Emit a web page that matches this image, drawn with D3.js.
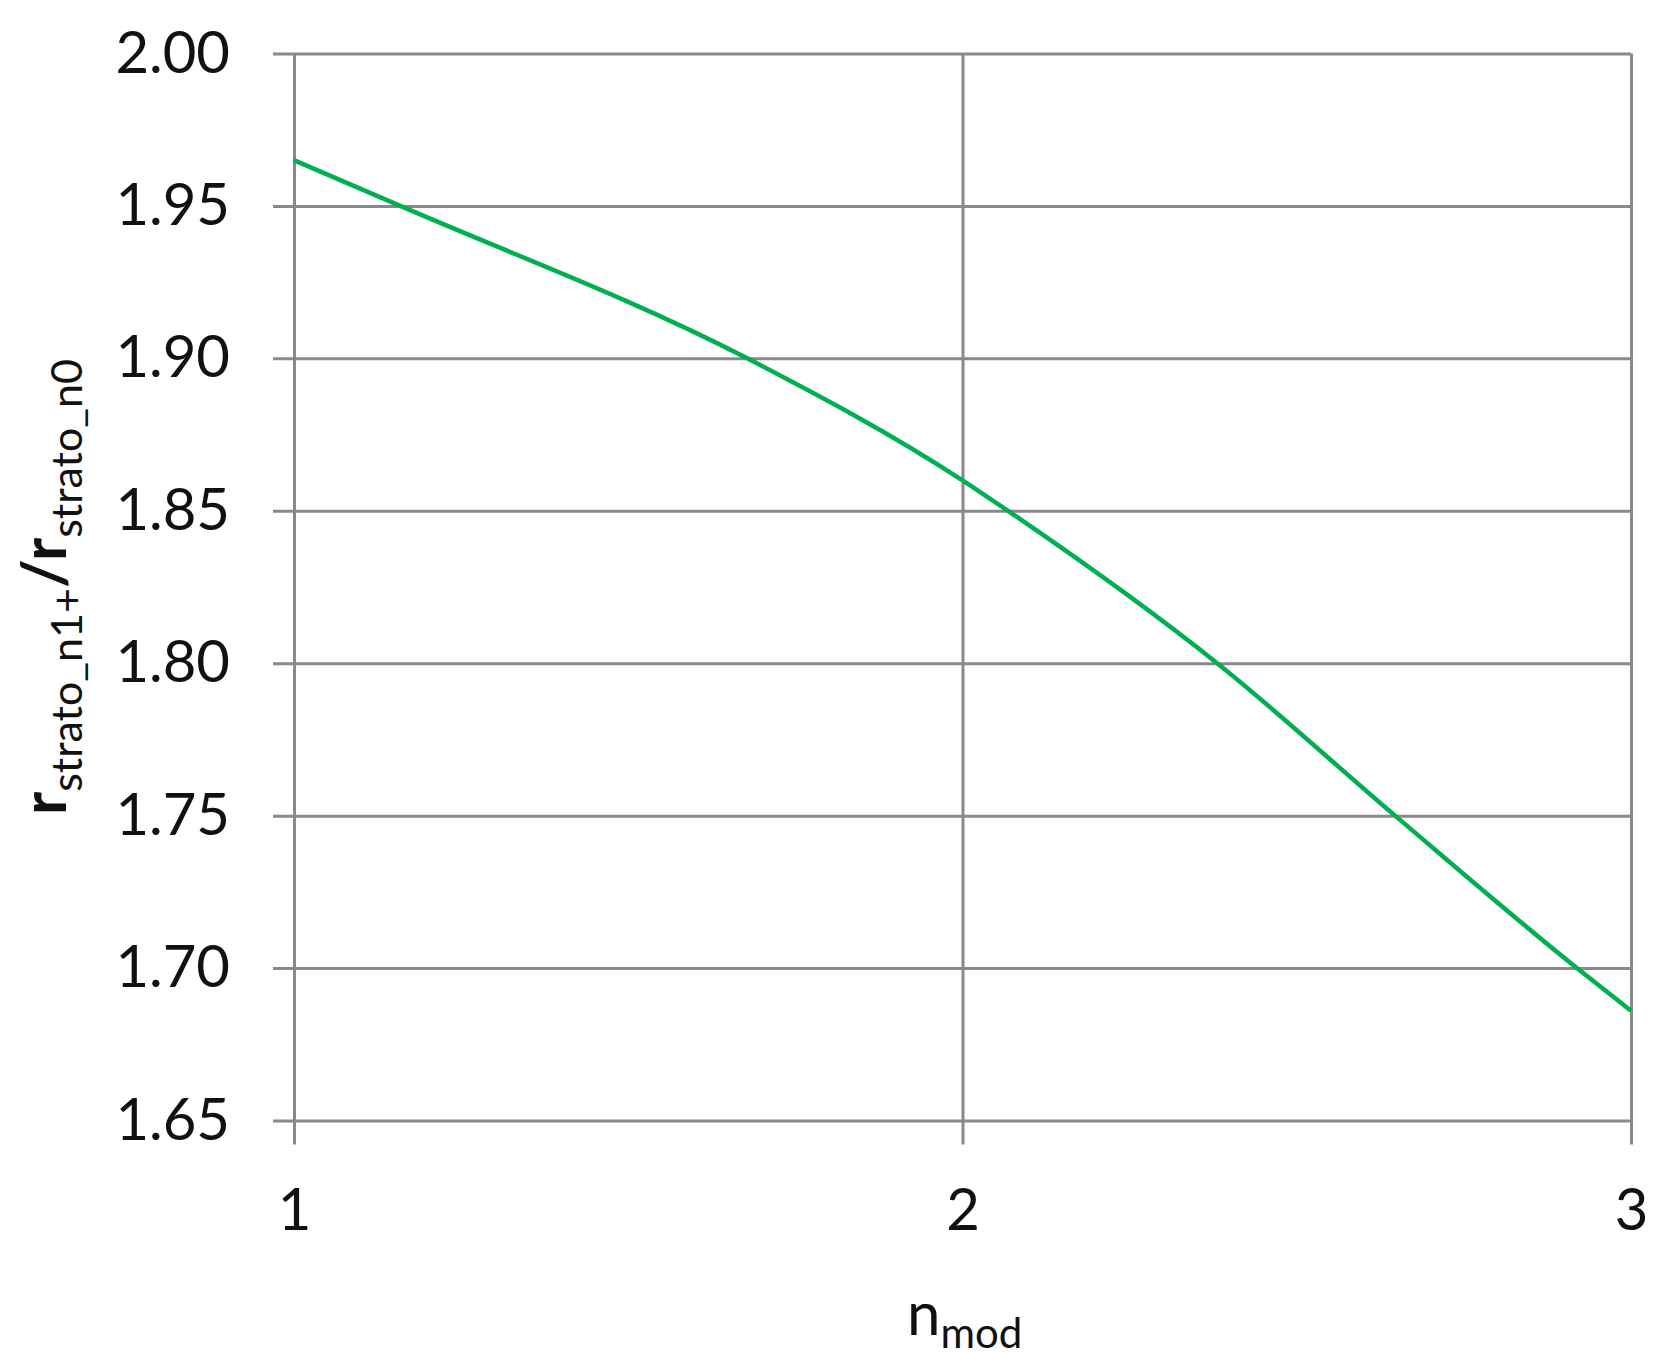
<!DOCTYPE html>
<html>
<head>
<meta charset="utf-8">
<script src="https://cdn.jsdelivr.net/npm/d3@7"></script>
<style>
  body { margin: 0; background: #fff; }
  text { font-family: Lato, "Open Sans", sans-serif; fill: #111; }
</style>
</head>
<body>
<div id="vis"></div>
<script>
const FRAME_WIDTH = 1667;
const FRAME_HEIGHT = 1369;
const MARGINS = { left: 294, right: 36, top: 53.5, bottom: 248.5 };

const VIS_WIDTH = FRAME_WIDTH - MARGINS.left - MARGINS.right;
const VIS_HEIGHT = FRAME_HEIGHT - MARGINS.top - MARGINS.bottom;

// data
const X_VALUES = [1.0, 1.159, 1.678, 2.0, 2.068, 2.381, 2.647, 2.919, 3.0];
const Y_VALUES = [1.965, 1.95, 1.90, 1.86, 1.85, 1.80, 1.75, 1.70, 1.686];
const X_TICKS = [1, 2, 3];
const Y_TICKS = [1.65, 1.70, 1.75, 1.80, 1.85, 1.90, 1.95, 2.00];

const GRID_COLOR = "#898989";
const LINE_COLOR = "#00b050";

const FRAME = d3.select("#vis")
  .append("svg")
  .attr("width", FRAME_WIDTH)
  .attr("height", FRAME_HEIGHT);

const X_SCALE = d3.scaleLinear().domain([1, 3]).range([0, VIS_WIDTH]);
const Y_SCALE = d3.scaleLinear().domain([1.65, 2.00]).range([VIS_HEIGHT, 0]);

// y axis + horizontal gridlines
const yAxis = FRAME.append("g")
  .attr("transform", `translate(${MARGINS.left}, ${MARGINS.top})`)
  .call(d3.axisLeft(Y_SCALE)
    .tickValues(Y_TICKS)
    .tickFormat(d3.format(".2f"))
    .tickSize(-VIS_WIDTH)
    .tickPadding(64));
yAxis.select(".domain").remove();
yAxis.selectAll(".tick line")
  .attr("x1", -21)
  .attr("x2", VIS_WIDTH)
  .attr("stroke", GRID_COLOR)
  .attr("stroke-width", 3);
yAxis.selectAll(".tick text")
  .attr("font-size", 58)
  .attr("font-family", "Lato, sans-serif")
  .attr("fill", "#111");

// x axis + vertical gridlines
const xAxis = FRAME.append("g")
  .attr("transform", `translate(${MARGINS.left}, ${MARGINS.top + VIS_HEIGHT})`)
  .call(d3.axisBottom(X_SCALE)
    .tickValues(X_TICKS)
    .tickFormat(d3.format("d"))
    .tickSize(-VIS_HEIGHT)
    .tickPadding(68));
xAxis.select(".domain").remove();
xAxis.selectAll(".tick line")
  .attr("y1", 24)
  .attr("y2", -VIS_HEIGHT)
  .attr("stroke", GRID_COLOR)
  .attr("stroke-width", 3);
xAxis.selectAll(".tick text")
  .attr("font-size", 58)
  .attr("font-family", "Lato, sans-serif")
  .attr("fill", "#111");

// the curve
const points = X_VALUES.map((x, i) => ({ x: x, y: Y_VALUES[i] }));
const line = d3.line()
  .x((d) => X_SCALE(d.x) + MARGINS.left)
  .y((d) => Y_SCALE(d.y) + MARGINS.top)
  .curve(d3.curveMonotoneX);

FRAME.append("path")
  .datum(points)
  .attr("d", line)
  .attr("fill", "none")
  .attr("stroke", LINE_COLOR)
  .attr("stroke-width", 4.5);

// x label: n_mod
const xLabel = FRAME.append("text")
  .attr("x", 907)
  .attr("y", 1335)
  .attr("font-size", 60);
xLabel.append("tspan").text("n");
xLabel.append("tspan").attr("font-size", 42).attr("dy", 13).text("mod");

// y label: r_strato_n1+ / r_strato_n0
const yLabel = FRAME.append("text")
  .attr("transform", `translate(66, ${MARGINS.top + VIS_HEIGHT / 2}) rotate(-90)`)
  .attr("text-anchor", "middle")
  .attr("font-size", 62);
yLabel.append("tspan").attr("font-weight", "bold").text("r");
yLabel.append("tspan").attr("font-size", 43).attr("dy", 16).text("strato_n1+");
yLabel.append("tspan").attr("font-weight", "bold").attr("dy", -16).text("/");
yLabel.append("tspan").attr("font-weight", "bold").text("r");
yLabel.append("tspan").attr("font-size", 43).attr("dy", 16).text("strato_n0");
</script>
</body>
</html>
